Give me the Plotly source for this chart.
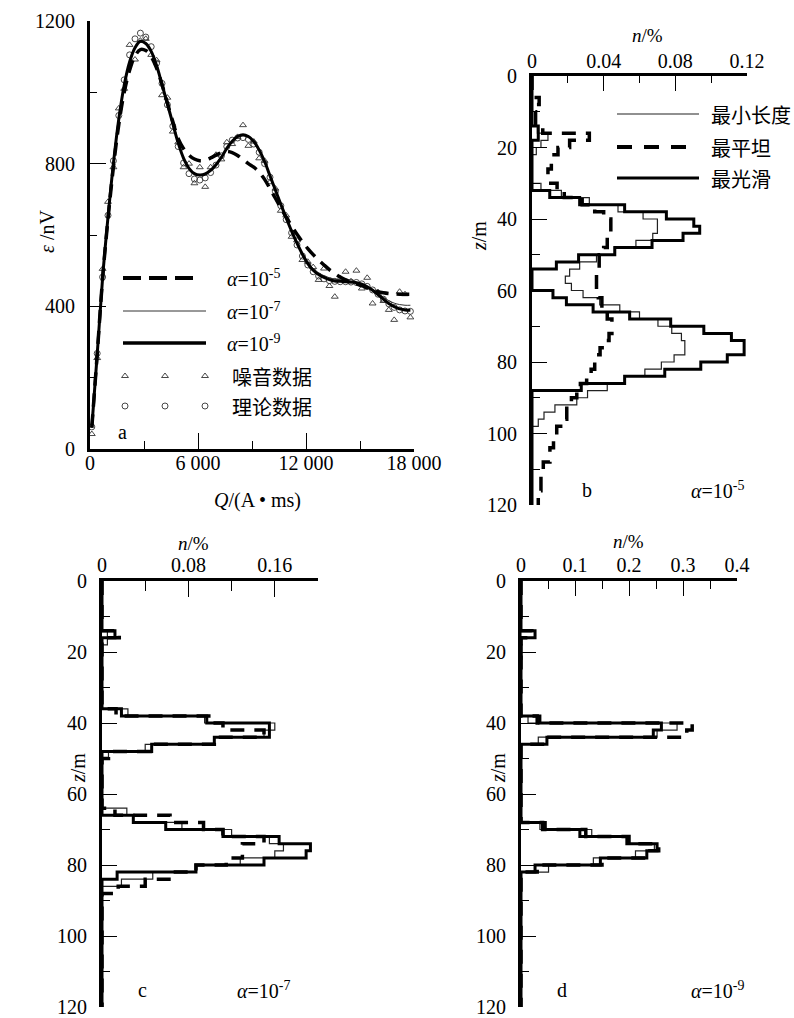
import plotly.graph_objects as go

W, H = 794, 1018

# ---------------- Panel a : epsilon vs Q ----------------
a_Q = [100, 400, 700, 1000, 1300, 1600, 1900, 2200, 2500, 2800,
       3100, 3400, 3700, 4000, 4300, 4600, 4900, 5200, 5500, 5800,
       6100, 6400, 6700, 7000, 7300, 7600, 7900, 8200, 8500, 8800,
       9100, 9400, 9700, 10000, 10300, 10600, 10900, 11200, 11500, 11800,
       12100, 12400, 12700, 13000, 13300, 13600, 13900, 14200, 14500, 14800,
       15100, 15400, 15700, 16000, 16300, 16600, 16900, 17200, 17500, 17800]
a_eps_alpha5 = [60, 265, 478, 645, 790, 910, 1000, 1062, 1102, 1120,
                1117, 1100, 1068, 1022, 970, 918, 870, 842, 824, 813,
                808, 810, 816, 824, 831, 834, 831, 823, 812, 800,
                790, 776, 756, 730, 703, 676, 650, 625, 602, 581,
                562, 545, 530, 516, 503, 492, 482, 474, 468, 463,
                458, 452, 446, 441, 438, 436, 435, 434, 434, 434]
a_eps_alpha7 = [60, 265, 480, 650, 800, 925, 1020, 1085, 1124, 1141,
                1136, 1114, 1075, 1022, 968, 912, 858, 815, 788, 773,
                769, 772, 782, 798, 818, 842, 862, 874, 878, 874,
                861, 838, 806, 767, 727, 688, 650, 614, 580, 550,
                525, 506, 494, 486, 480, 476, 474, 472, 470, 468,
                464, 457, 448, 437, 426, 416, 409, 405, 403, 403]
a_eps_alpha9 = [60, 265, 480, 650, 800, 925, 1020, 1085, 1125, 1143,
                1137, 1115, 1075, 1022, 968, 912, 858, 815, 787, 772,
                768, 771, 781, 797, 818, 843, 863, 876, 881, 876,
                862, 838, 806, 766, 726, 686, 648, 611, 577, 546,
                520, 501, 489, 481, 475, 471, 470, 469, 468, 466,
                462, 455, 445, 433, 420, 408, 399, 393, 390, 389]
a_theory = [62, 268, 482, 655, 808, 935, 1035, 1105, 1150, 1166,
            1155, 1128, 1082, 1025, 965, 905, 848, 802, 772, 757,
            754, 760, 775, 796, 822, 848, 866, 872, 873, 868,
            855, 832, 800, 762, 722, 682, 643, 606, 572, 541,
            516, 497, 485, 477, 472, 470, 469, 469, 468, 467,
            463, 456, 446, 434, 420, 407, 397, 390, 387, 386]
a_noise = [42, 255, 505, 693, 790, 955, 1010, 1133, 1092, 1145,
           1150, 1105, 1090, 992, 985, 890, 860, 790, 800, 745,
           790, 735, 790, 825, 812, 860, 855, 875, 908, 850,
           862, 815, 808, 748, 730, 668, 655, 595, 585, 530,
           525, 510, 474, 506, 457, 427, 478, 497, 470, 500,
           450, 480, 408, 440, 415, 390, 362, 441, 434, 369]
a_xtickvals = [0, 6000, 12000, 18000]
a_xticktext = ["0", "6 000", "12 000", "18 000"]
a_ytickvals = [0, 400, 800, 1200]

# ---------------- Panel b : alpha = 1e-5 ----------------
b_len_z = [0, 14, 16, 18, 20, 22, 30, 32, 34, 36, 38, 40, 44, 46, 48, 50, 52, 54, 56, 58,
           60, 62, 64, 66, 68, 70, 72, 74, 78, 80, 82, 84, 86, 88, 90, 92, 94, 96, 98, 120]
b_len_n = [0, 0.003, 0.0089, 0.005, 0.0024, 0, 0.005, 0.0164, 0.032, 0.048,
           0.062, 0.070, 0.0674, 0.058, 0.046, 0.036, 0.0266, 0.021, 0.0186, 0.022,
           0.0285, 0.0378, 0.049, 0.060, 0.0703, 0.078, 0.0834, 0.0853, 0.0793, 0.0722,
           0.063, 0.052, 0.042, 0.031, 0.025, 0.0128, 0.0067, 0.0035, 0]
b_flat_z = [0, 6, 8, 10, 14, 16, 18, 20, 22, 26, 30, 32, 34, 36, 38, 40, 44, 48, 50, 54,
            60, 62, 66, 68, 72, 74, 76, 78, 80, 82, 84, 86, 88, 90, 92, 96, 98, 102, 104,
            108, 112, 116, 120]
b_flat_n = [0, 0.004, 0.0015, 0.002, 0.006, 0.032, 0.021, 0.0145, 0.0108, 0.0089,
            0.014, 0.018, 0.028, 0.035, 0.040, 0.044, 0.042, 0.040, 0.0375, 0.036,
            0.037, 0.039, 0.042, 0.0446, 0.043, 0.041, 0.038, 0.036, 0.035, 0.033,
            0.0305, 0.027, 0.025, 0.022, 0.0194, 0.016, 0.0138, 0.012, 0.010, 0.0063,
            0.005, 0.0035]
b_smooth_z = [0, 14, 16, 18, 32, 34, 36, 38, 40, 42, 44, 46, 48, 50, 52, 54, 60, 62, 64,
              66, 68, 70, 72, 74, 78, 80, 82, 84, 86, 88, 120]
b_smooth_n = [0, 0.0035, 0.0035, 0, 0.0099, 0.0266, 0.0517, 0.075, 0.0903, 0.0936,
              0.0843, 0.067, 0.0462, 0.026, 0.0136, 0, 0.0117, 0.0192, 0.0341, 0.0545,
              0.0774, 0.0959, 0.1113, 0.1184, 0.109, 0.0942, 0.0741, 0.0517, 0.0275, 0]

# ---------------- Panel c : alpha = 1e-7 ----------------
c_len_z = [0, 14, 18, 36, 38, 40, 42, 44, 46, 48, 50, 64, 66, 68, 70, 72, 74, 76, 78, 80,
           82, 84, 86, 120]
c_len_n = [0, 0.005, 0, 0.024, 0.095, 0.160, 0.150, 0.104, 0.040, 0.006, 0,
           0.023, 0.029, 0.074, 0.120, 0.155, 0.168, 0.160, 0.128, 0.087, 0.047, 0.018, 0]
c_flat_z = [0, 14, 16, 36, 38, 40, 42, 44, 46, 48, 50, 64, 66, 68, 70, 72, 74, 76, 78, 80,
            82, 84, 86, 88, 120]
c_flat_n = [0, 0.016, 0, 0.013, 0.103, 0.112, 0.150, 0.104, 0.045, 0.006, 0,
            0.012, 0.063, 0.094, 0.112, 0.150, 0.130, 0.130, 0.115, 0.087, 0.062, 0.040,
            0.015, 0]
c_smooth_z = [0, 14, 16, 36, 38, 40, 44, 46, 48, 66, 68, 70, 72, 74, 76, 78, 80, 82, 84, 120]
c_smooth_n = [0, 0.012, 0, 0.018, 0.097, 0.155, 0.104, 0.046, 0,
              0.029, 0.059, 0.112, 0.164, 0.193, 0.189, 0.150, 0.087, 0.014, 0]

# ---------------- Panel d : alpha = 1e-9 ----------------
d_len_z = [0, 18, 22, 38, 40, 42, 44, 46, 68, 70, 72, 74, 76, 78, 80, 82, 120]
d_len_n = [0, 0.002, 0, 0.013, 0.289, 0.252, 0.032, 0,
           0.035, 0.131, 0.200, 0.247, 0.212, 0.134, 0.051, 0]
d_flat_z = [0, 14, 16, 38, 40, 42, 44, 46, 68, 70, 72, 74, 76, 78, 80, 82, 120]
d_flat_n = [0, 0.020, 0, 0.030, 0.317, 0.307, 0.045, 0,
            0.040, 0.120, 0.200, 0.255, 0.235, 0.150, 0.030, 0]
d_smooth_z = [0, 14, 16, 38, 40, 42, 44, 46, 68, 70, 72, 74, 76, 78, 80, 82, 120]
d_smooth_n = [0, 0.026, 0, 0.035, 0.260, 0.245, 0.048, 0,
              0.045, 0.109, 0.196, 0.252, 0.233, 0.147, 0.026, 0]

# ---------------- helpers ----------------
FONT = "Liberation Serif, Times New Roman, Noto Sans CJK SC"
CJK = "Noto Sans CJK SC, Liberation Serif"
THIN = "#222"


def step_xy(edges, vals):
    xs, ys = [], []
    for i, v in enumerate(vals):
        xs += [v, v]
        ys += [edges[i], edges[i + 1]]
    return xs, ys


def px_x(p):
    return p / W


def px_y(p):
    return 1 - p / H


fig = go.Figure()

# panel a traces
fig.add_trace(go.Scatter(x=a_Q, y=a_noise, mode="markers", xaxis="x", yaxis="y",
                         marker=dict(symbol="triangle-up-open", size=6, color="#333",
                                     line=dict(width=0.9))))
fig.add_trace(go.Scatter(x=a_Q, y=a_theory, mode="markers", xaxis="x", yaxis="y",
                         marker=dict(symbol="circle-open", size=6, color="#333",
                                     line=dict(width=0.9))))
fig.add_trace(go.Scatter(x=a_Q, y=a_eps_alpha7, mode="lines", xaxis="x", yaxis="y",
                         line=dict(color="#333", width=1, shape="spline", smoothing=1)))
fig.add_trace(go.Scatter(x=a_Q, y=a_eps_alpha9, mode="lines", xaxis="x", yaxis="y",
                         line=dict(color="black", width=3, shape="spline", smoothing=1)))
fig.add_trace(go.Scatter(x=a_Q, y=a_eps_alpha5, mode="lines", xaxis="x", yaxis="y",
                         line=dict(color="black", width=3.5, dash="13px,8px",
                                   shape="spline", smoothing=1)))

# profile panels
panels = [("x2", "y2", b_len_z, b_len_n, b_flat_z, b_flat_n, b_smooth_z, b_smooth_n),
          ("x3", "y3", c_len_z, c_len_n, c_flat_z, c_flat_n, c_smooth_z, c_smooth_n),
          ("x4", "y4", d_len_z, d_len_n, d_flat_z, d_flat_n, d_smooth_z, d_smooth_n)]
for xa, ya, lz, ln, fz, fn, sz, sn in panels:
    x, y = step_xy(lz, ln)
    fig.add_trace(go.Scatter(x=x, y=y, mode="lines", xaxis=xa, yaxis=ya,
                             line=dict(color=THIN, width=1.2)))
    x, y = step_xy(fz, fn)
    fig.add_trace(go.Scatter(x=x, y=y, mode="lines", xaxis=xa, yaxis=ya,
                             line=dict(color="black", width=3.5, dash="14px,10px")))
    x, y = step_xy(sz, sn)
    fig.add_trace(go.Scatter(x=x, y=y, mode="lines", xaxis=xa, yaxis=ya,
                             line=dict(color="black", width=3)))

# legend samples on an overlay pixel axis (x5/y5)
fig.add_trace(go.Scatter(x=[123, 193], y=[278, 278], mode="lines", xaxis="x5", yaxis="y5",
                         line=dict(color="black", width=4, dash="18px,8px")))
fig.add_trace(go.Scatter(x=[123, 206], y=[311, 311], mode="lines", xaxis="x5", yaxis="y5",
                         line=dict(color="#333", width=1)))
fig.add_trace(go.Scatter(x=[123, 206], y=[343, 343], mode="lines", xaxis="x5", yaxis="y5",
                         line=dict(color="black", width=3.5)))
fig.add_trace(go.Scatter(x=[125, 165, 205], y=[376, 376, 376], mode="markers",
                         xaxis="x5", yaxis="y5",
                         marker=dict(symbol="triangle-up-open", size=6, color="#333",
                                     line=dict(width=0.9))))
fig.add_trace(go.Scatter(x=[125, 165, 205], y=[406, 406, 406], mode="markers",
                         xaxis="x5", yaxis="y5",
                         marker=dict(symbol="circle-open", size=6, color="#333",
                                     line=dict(width=0.9))))
fig.add_trace(go.Scatter(x=[617, 699], y=[114, 114], mode="lines", xaxis="x5", yaxis="y5",
                         line=dict(color=THIN, width=1.2)))
fig.add_trace(go.Scatter(x=[617, 687], y=[147, 147], mode="lines", xaxis="x5", yaxis="y5",
                         line=dict(color="black", width=4, dash="15px,12px")))
fig.add_trace(go.Scatter(x=[617, 699], y=[178, 178], mode="lines", xaxis="x5", yaxis="y5",
                         line=dict(color="black", width=3.2)))

tickfont = dict(family=FONT, size=20, color="black")


def axis(**kw):
    d = dict(showline=True, linewidth=3, linecolor="black", showgrid=False, zeroline=False,
             ticks="inside", tickwidth=1, tickcolor="black", tickfont=tickfont,
             fixedrange=True, automargin=False, ticklabeloverflow="allow")
    d.update(kw)
    return d


def minor(**kw):
    d = dict(ticks="inside", tickwidth=1, tickcolor="black", showgrid=False)
    d.update(kw)
    return d


prof_y = dict(range=[120, 0], tickmode="linear", tick0=0, dtick=20, ticklen=15,
              minor=minor(dtick=10, tick0=0, ticklen=8), ticklabelstandoff=8)

fig.update_layout(
    width=W, height=H, margin=dict(l=0, r=0, t=0, b=0, pad=0, autoexpand=False),
    paper_bgcolor="white", plot_bgcolor="rgba(0,0,0,0)", showlegend=False,
    font=dict(family=FONT, size=20, color="black"),
    xaxis=axis(domain=[px_x(90), px_x(414)], range=[0, 18000], anchor="y",
               tickmode="array", tickvals=a_xtickvals, ticktext=a_xticktext, ticklen=16,
               minor=minor(tickmode="array", tickvals=[3000, 9000, 15000], ticklen=8),
               ticklabelstandoff=-6),
    yaxis=axis(domain=[px_y(449), px_y(21)], range=[0, 1200], anchor="x",
               tickmode="array", tickvals=a_ytickvals, ticklen=16,
               minor=minor(tickmode="array", tickvals=[200, 600, 1000], ticklen=7),
               ticklabelstandoff=8),
    xaxis2=axis(domain=[px_x(532), px_x(747)], range=[0, 0.12], anchor="y2", side="top",
                tickmode="linear", tick0=0, dtick=0.04, ticklen=15,
                minor=minor(dtick=0.02, tick0=0, ticklen=7), ticklabelstandoff=-3),
    yaxis2=axis(domain=[px_y(505), px_y(76)], anchor="x2", **prof_y),
    xaxis3=axis(domain=[px_x(102), px_x(318)], range=[0, 0.2], anchor="y3", side="top",
                tickmode="linear", tick0=0, dtick=0.08, ticklen=16,
                minor=minor(dtick=0.04, tick0=0, ticklen=10), ticklabelstandoff=-2),
    yaxis3=axis(domain=[px_y(1007), px_y(581)], anchor="x3", **prof_y),
    xaxis4=axis(domain=[px_x(521), px_x(737)], range=[0, 0.4], anchor="y4", side="top",
                tickmode="linear", tick0=0, dtick=0.1, ticklen=15,
                minor=minor(dtick=0.05, tick0=0, ticklen=8), ticklabelstandoff=-2),
    yaxis4=axis(domain=[px_y(1007), px_y(581)], anchor="x4", **prof_y),
    xaxis5=dict(domain=[0, 1], range=[0, W], visible=False, anchor="y5", fixedrange=True,
                automargin=False),
    yaxis5=dict(domain=[0, 1], range=[H, 0], visible=False, anchor="x5", fixedrange=True,
                automargin=False),
)

ann = []


def text(x, y, s, size=20, angle=0, xanchor="center", family=FONT):
    ann.append(dict(x=x, y=y, xref="x5", yref="y5", text=s, showarrow=False,
                    textangle=angle, xanchor=xanchor, yanchor="middle",
                    font=dict(family=family, size=size, color="black")))


# panel a
text(47, 232, "<i>ε</i> /nV", angle=-90)
text(257, 500, "<i>Q</i>/(A • ms)")
text(122, 432, "a")
text(253, 278, "<i>α</i>=10<sup>-5</sup>")
text(253, 311, "<i>α</i>=10<sup>-7</sup>")
text(253, 343, "<i>α</i>=10<sup>-9</sup>")
text(272, 376, "噪音数据", family=CJK)
text(272, 406, "理论数据", family=CJK)
# panel b
text(647, 35, "<i>n</i>/%", size=19)
text(479, 236, "<i>z</i>/m", angle=-90)
text(587, 490, "b")
text(717, 490, "<i>α</i>=10<sup>-5</sup>")
text(709, 114, "最小长度", xanchor="left", family=CJK)
text(709, 147, "最平坦", xanchor="left", family=CJK)
text(709, 178, "最光滑", xanchor="left", family=CJK)
# panel c
text(193, 543, "<i>n</i>/%", size=19)
text(78, 768, "<i>z</i>/m", angle=-90)
text(142, 990, "c")
text(263, 990, "<i>α</i>=10<sup>-7</sup>")
# panel d
text(628, 541, "<i>n</i>/%", size=19)
text(498, 768, "<i>z</i>/m", angle=-90)
text(562, 990, "d")
text(717, 990, "<i>α</i>=10<sup>-9</sup>")

fig.update_layout(annotations=ann)

fig.write_html("out.html", config={"displayModeBar": False, "staticPlot": True},
               post_script="document.body.style.margin='0';")
